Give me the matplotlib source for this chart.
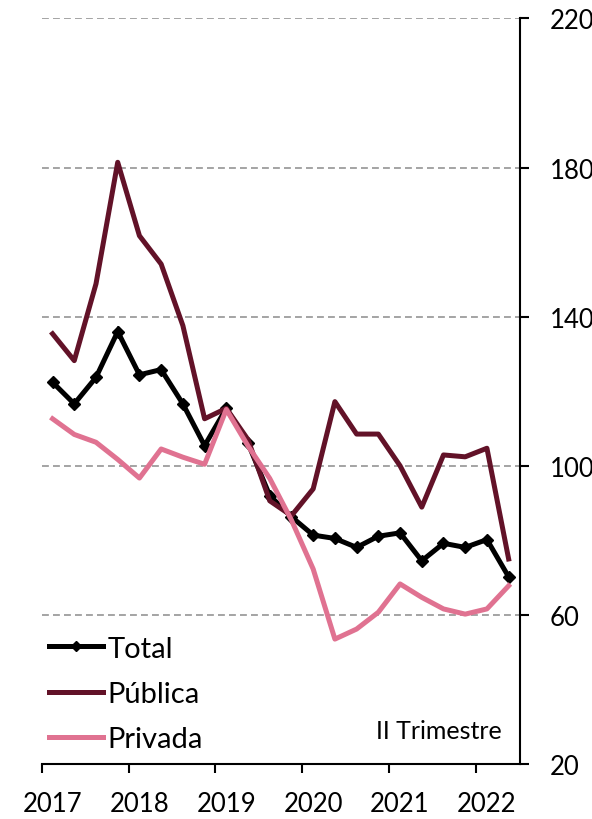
import matplotlib
matplotlib.use("Agg")
import matplotlib.pyplot as plt
from matplotlib.lines import Line2D
import numpy as np

plt.rcParams['font.family'] = ['Lato', 'DejaVu Sans']

years = ["2017", "2018", "2019", "2020", "2021", "2022"]
total = [122.4, 116.6, 123.7, 136.0, 124.4, 125.8, 116.6, 105.4, 115.4, 106.0, 92.0,
         86.3, 81.4, 80.5, 78.1, 81.1, 82.0, 74.5, 79.2, 78.1, 80.2, 70.2]
publica = [135.4, 128.2, 148.8, 181.4, 161.7, 154.1, 137.6, 112.6, 115.4, 107.0, 90.6,
           86.6, 93.8, 117.2, 108.5, 108.5, 100.0, 88.9, 102.9, 102.4, 104.7, 75.0]
privada = [112.6, 108.4, 106.3, 101.7, 96.7, 104.5, 102.3, 100.4, 115.1, 105.3, 96.6,
           85.4, 72.3, 53.5, 56.2, 60.7, 68.3, 64.7, 61.6, 60.2, 61.6, 67.8]
yticks = [20, 60, 100, 140, 180, 220]

W, H = 592, 820
fig = plt.figure(figsize=(W / 100, H / 100), dpi=100)
ax_h = 765 - 19.4
ax = fig.add_axes([41.7 / W, 1 - 765 / H, (519.5 - 41.7) / W, ax_h / H])

x = np.arange(len(total))
c_pub = "#621228"
c_pri = "#E07291"
LW = 3.6
ax.plot(x, total, color="black", lw=LW, marker="D", ms=6.5, solid_joinstyle="miter", zorder=3)
ax.plot(x, publica, color=c_pub, lw=LW, zorder=4)
ax.plot(x, privada, color=c_pri, lw=LW, zorder=5)

ax.set_xlim(-0.5, len(total) - 0.5)
ax.set_ylim(20, 220)

for v in yticks[1:]:
    ax.axhline(v, color="#8c8c8c", lw=1.1, dashes=(4.5, 2.7), zorder=1)

ax.yaxis.tick_right()
ax.set_yticks(yticks)
ax.set_yticklabels([str(v) for v in yticks])
ax.set_xticks(np.arange(-0.5, len(total), 4))
ax.set_xticklabels([])
for i, yr in enumerate(years):
    ax.text(i * 4, -40 / ax_h, yr, transform=ax.get_xaxis_transform(), ha="center", va="center",
            fontsize=18.5)

ax.tick_params(axis="y", direction="out", length=6.5, width=1.5, pad=15.5, labelsize=18.5)
ax.tick_params(axis="x", direction="out", length=6.5, width=1.5)
for s in ["left", "top"]:
    ax.spines[s].set_visible(False)
for s in ["right", "bottom"]:
    ax.spines[s].set_linewidth(1.5)

handles = [Line2D([], [], color="black", lw=LW, marker="D", ms=5.5),
           Line2D([], [], color=c_pub, lw=LW),
           Line2D([], [], color=c_pri, lw=LW)]
leg = ax.legend(handles, ["Total", "Pública", "Privada"], loc="lower left",
                bbox_to_anchor=(49 / W, 1 - 753 / H), bbox_transform=fig.transFigure,
                frameon=False, fontsize=21, handlelength=1.85, handletextpad=0.15,
                labelspacing=0.66, borderpad=0, borderaxespad=0, markerfirst=True)

fig.text(502 / W, 1 - 732 / H, "II Trimestre", ha="right", va="center", fontsize=18)

fig.savefig("out.png", dpi=100)
